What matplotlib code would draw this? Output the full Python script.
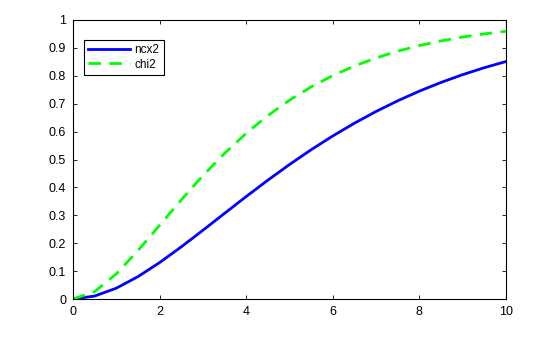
import matplotlib
matplotlib.use("Agg")
import matplotlib.pyplot as plt

x = [0, 0.5, 1, 1.5, 2, 2.5, 3, 3.5, 4, 4.5, 5, 5.5, 6, 6.5, 7, 7.5, 8, 8.5, 9, 9.5, 10]
ncx2 = [0, 0.0106, 0.0388, 0.0801, 0.1305, 0.1868, 0.2463, 0.3070, 0.3672, 0.4259,
        0.4820, 0.5350, 0.5844, 0.6302, 0.6722, 0.7105, 0.7451, 0.7763, 0.8042, 0.8291, 0.8512]
chi2 = [0, 0.0265, 0.0902, 0.1734, 0.2642, 0.3554, 0.4422, 0.5221, 0.5940, 0.6574,
        0.7127, 0.7603, 0.8009, 0.8352, 0.8641, 0.8883, 0.9084, 0.9251, 0.9389, 0.9503, 0.9596]
xticks = [0, 2, 4, 6, 8, 10]
yticks = [0, 0.1, 0.2, 0.3, 0.4, 0.5, 0.6, 0.7, 0.8, 0.9, 1]
ylabels = ["0", "0.1", "0.2", "0.3", "0.4", "0.5", "0.6", "0.7", "0.8", "0.9", "1"]

plt.rcParams['font.family'] = ['Liberation Sans', 'DejaVu Sans']
fig = plt.figure(figsize=(5.6, 3.37), dpi=100)
ax = fig.add_axes([73/560, 1-299/337, 433/560, 279/337])
ax.plot(x, ncx2, color='#0000ff', lw=2, label='ncx2')
ax.plot(x, chi2, color='#00ff00', lw=2, ls=(0, (4.5, 3)), label='chi2')
ax.set_xlim(0, 10)
ax.set_ylim(0, 1)
ax.set_xticks(xticks)
ax.set_xticklabels([str(t) for t in xticks])
ax.set_yticks(yticks)
ax.set_yticklabels(ylabels)
ax.tick_params(direction='in', top=True, right=True, labelsize=9, length=3, width=0.6, pad=5)
for s in ax.spines.values():
    s.set_linewidth(0.8)
leg = ax.legend(loc='upper left', bbox_to_anchor=(0.025, 0.93), fontsize=8.5, fancybox=False,
                edgecolor='black', framealpha=1, handlelength=3.6, borderpad=0.35,
                labelspacing=0.25, handletextpad=0.35, borderaxespad=0)
leg.get_frame().set_linewidth(0.8)
fig.savefig('out.png', dpi=100)
